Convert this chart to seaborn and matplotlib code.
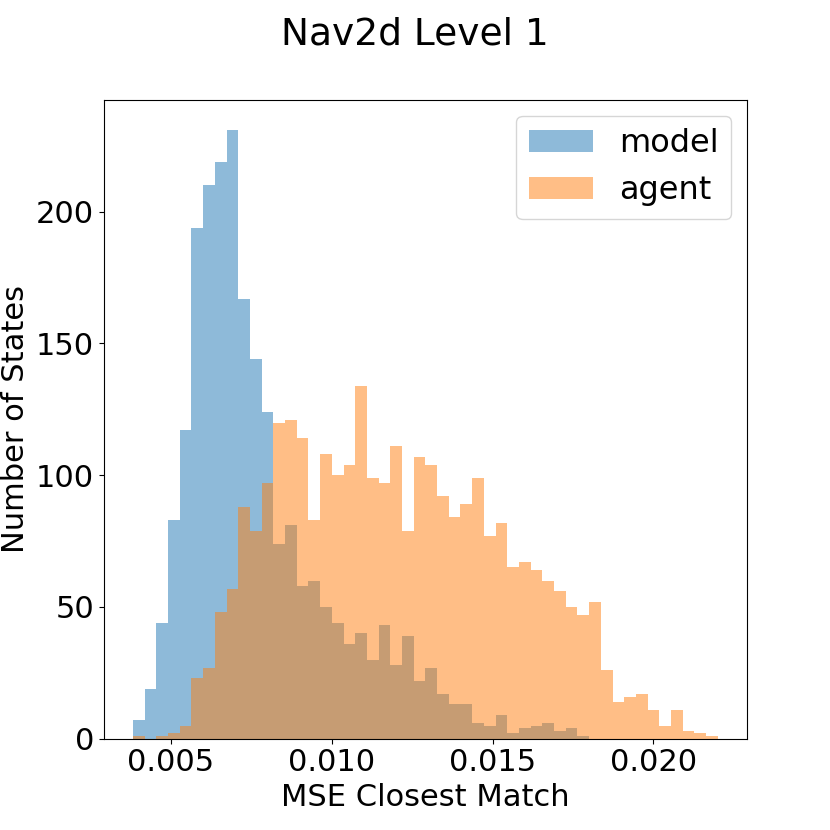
import numpy as np
import matplotlib
matplotlib.use("Agg")
import matplotlib.pyplot as plt
import pandas as pd
import seaborn as sns


# Nav2d level 1: closest-match MSE histograms (counts read per bin)

bin_lo = 0.00382
bin_hi = 0.02200
n_bins = 50

model_counts = [7, 19, 44, 83, 117, 194, 210, 219, 231, 167,
                144, 124, 74, 81, 58, 60, 50, 44, 36, 40,
                30, 43, 28, 39, 22, 27, 17, 13, 13, 6,
                5, 9, 2, 4, 5, 6, 3, 4, 1, 0,
                0, 0, 0, 0, 0, 0, 0, 0, 0, 0]

agent_counts = [1, 0, 1, 2, 5, 23, 27, 48, 57, 88,
                79, 97, 120, 121, 114, 83, 108, 100, 104, 134,
                99, 97, 111, 79, 107, 104, 92, 84, 89, 99,
                77, 82, 65, 67, 64, 60, 56, 50, 47, 52,
                26, 14, 16, 17, 11, 5, 11, 3, 2, 1]

edges = np.linspace(bin_lo, bin_hi, n_bins + 1)
centers = (edges[:-1] + edges[1:]) / 2

model_df = pd.DataFrame({"mse": centers, "n": model_counts})
agent_df = pd.DataFrame({"mse": centers, "n": agent_counts})

fig, ax = plt.subplots(figsize=(8.3, 8.3), dpi=100)

sns.histplot(data=model_df, x="mse", weights="n", bins=n_bins,
             binrange=(bin_lo, bin_hi), color="tab:blue",
             alpha=0.5, linewidth=0, label="model", ax=ax)
sns.histplot(data=agent_df, x="mse", weights="n", bins=n_bins,
             binrange=(bin_lo, bin_hi), color="tab:orange",
             alpha=0.5, linewidth=0, label="agent", ax=ax)

ax.set_xticks([0.005, 0.010, 0.015, 0.020])
ax.set_xticklabels(["0.005", "0.010", "0.015", "0.020"])
ax.tick_params(labelsize=22)
ax.set_xlabel("MSE Closest Match", fontsize=22)
ax.set_ylabel("Number of States", fontsize=22)
ax.legend(fontsize=23)
fig.suptitle("Nav2d Level 1", fontsize=27)

fig.savefig("out.png")
